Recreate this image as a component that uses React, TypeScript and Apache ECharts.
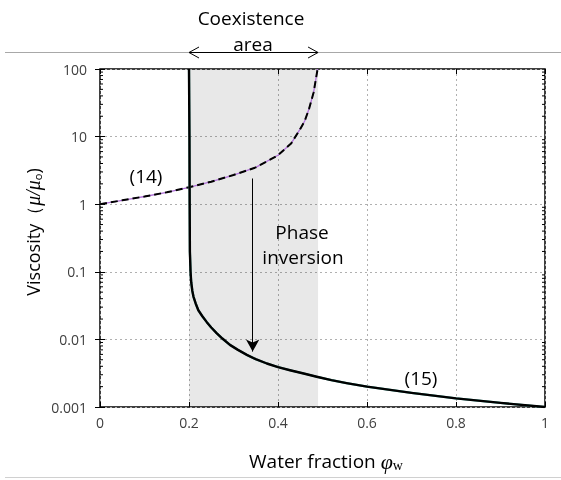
import React, { useEffect, useRef } from 'react';
import * as echarts from 'echarts';

// Eq. (14): oil-continuous viscosity model
const model14X = [0, 0.05, 0.1, 0.15, 0.2, 0.25, 0.3, 0.35, 0.4, 0.43, 0.45, 0.46, 0.47, 0.48, 0.485, 0.489];
const model14Y = [1, 1.14, 1.3, 1.5, 1.78, 2.15, 2.7, 3.5, 5.3, 8, 13, 17, 26, 45, 70, 100];

// Eq. (15): water-continuous viscosity model
const model15X = [0.2, 0.201, 0.2015, 0.202, 0.2035, 0.205, 0.2075, 0.21, 0.215, 0.221, 0.23, 0.24, 0.25, 0.262, 0.275, 0.292, 0.31, 0.33, 0.35, 0.375, 0.4, 0.427, 0.46, 0.487, 0.52, 0.554, 0.6, 0.7, 0.8, 0.9, 1.0];
const model15Y = [100, 10, 1, 0.2, 0.1, 0.07, 0.052, 0.043, 0.034, 0.027, 0.022, 0.018, 0.015, 0.0124, 0.0103, 0.0083, 0.007, 0.0059, 0.0051, 0.0044, 0.0039, 0.0035, 0.0031, 0.0028, 0.0025, 0.00226, 0.002, 0.00162, 0.00134, 0.00115, 0.001];

const coexistenceRange = [0.2, 0.49];
const phaseArrowX = 0.343;
const phaseArrowY = [2.4, 0.0066];

const xTickLabels = ['0', '0.2', '0.4', '0.6', '0.8', '1'];
const yTickLabels = ['0.001', '0.01', '0.1', '1', '10', '100'];

const FONT = 'Open Sans';

export default function App() {
  const ref = useRef<HTMLDivElement>(null);
  useEffect(() => {
    if (!ref.current) return;
    const chart = echarts.init(ref.current, null, { renderer: 'svg' });
    const d14 = model14X.map((x, i) => [x, model14Y[i]]);
    const d15 = model15X.map((x, i) => [x, model15Y[i]]);
    const xLabel = (v: number) => xTickLabels[Math.round(v / 0.2)] ?? '';
    const yLabel = (v: number) => yTickLabels[Math.round(Math.log10(v)) + 3] ?? '';
    const tick = { show: true, inside: true, length: 5, lineStyle: { color: '#000', width: 1 } };
    const split = { show: true, lineStyle: { color: '#b0b0b0', type: [2, 3] as any, width: 1 } };
    const L = 100, R = 16, T = 69, B = 73;
    chart.setOption({
      animation: false,
      grid: { left: L, right: R, top: T, bottom: B, show: true, borderColor: '#000', borderWidth: 1.5, backgroundColor: 'transparent' },
      xAxis: [
        {
          type: 'value', min: 0, max: 1, interval: 0.2, position: 'bottom',
          axisLine: { show: false }, axisTick: tick,
          axisLabel: { color: '#404040', fontSize: 14, fontFamily: FONT, margin: 8, formatter: xLabel },
          splitLine: split,
        },
        {
          type: 'value', min: 0, max: 1, interval: 0.2, position: 'top',
          axisLine: { show: false }, axisTick: tick, axisLabel: { show: false }, splitLine: { show: false },
        },
      ],
      yAxis: [
        {
          type: 'log', logBase: 10, min: 0.001, max: 100, position: 'left',
          axisLine: { show: false }, axisTick: tick,
          axisLabel: { color: '#404040', fontSize: 14, fontFamily: FONT, margin: 13, formatter: yLabel },
          splitLine: split,
        },
        {
          type: 'log', logBase: 10, min: 0.001, max: 100, position: 'right',
          axisLine: { show: false }, axisTick: tick, axisLabel: { show: false }, splitLine: { show: false },
        },
      ],
      series: [
        {
          type: 'line', data: d14, showSymbol: false, z: 2,
          lineStyle: { color: '#b070d8', width: 1.3 },
          markArea: {
            silent: true,
            itemStyle: { color: 'rgba(0,0,0,0.09)' },
            data: [[{ xAxis: coexistenceRange[0] }, { xAxis: coexistenceRange[1] }]],
          },
        },
        {
          type: 'line', data: d14, showSymbol: false, z: 3,
          lineStyle: { color: '#000', width: 2, type: [7, 4] as any },
        },
        {
          type: 'line', data: d15, showSymbol: false, z: 3,
          lineStyle: { color: '#50b8a8', width: 2.2 },
        },
        {
          type: 'line', data: d15, showSymbol: false, z: 4,
          lineStyle: { color: '#000', width: 2.4, join: 'round' },
          markLine: {
            silent: true, symbol: ['none', 'arrow'], symbolSize: [10, 12],
            lineStyle: { color: '#000', width: 1, type: 'solid' },
            label: { show: false },
            data: [[{ coord: [phaseArrowX, phaseArrowY[0]] }, { coord: [phaseArrowX, phaseArrowY[1]] }]],
          },
        },
      ],
    });

    const W = 561;
    const xl = L, xr = W - R;
    const graphics: any[] = [];
    // minor log ticks on left and right
    for (let e = -3; e < 2; e++) {
      for (let m = 2; m <= 9; m++) {
        const v = m * Math.pow(10, e);
        const py = chart.convertToPixel({ yAxisIndex: 0 }, v) as number;
        graphics.push({ type: 'line', shape: { x1: xl, y1: py, x2: xl + 3, y2: py }, style: { stroke: '#000', lineWidth: 1 }, silent: true });
        graphics.push({ type: 'line', shape: { x1: xr - 3, y1: py, x2: xr, y2: py }, style: { stroke: '#000', lineWidth: 1 }, silent: true });
      }
    }
    // coexistence arrow ends follow the shaded range
    const ax0 = chart.convertToPixel({ xAxisIndex: 0 }, coexistenceRange[0]) as number;
    const ax1 = chart.convertToPixel({ xAxisIndex: 0 }, coexistenceRange[1]) as number;
    // top and bottom decorative rules
    graphics.push({ type: 'line', shape: { x1: 5, y1: 52.5, x2: 561, y2: 52.5 }, style: { stroke: '#a8a8a8', lineWidth: 1 }, silent: true });
    graphics.push({ type: 'line', shape: { x1: 5, y1: 477.5, x2: 561, y2: 477.5 }, style: { stroke: '#d0d0d0', lineWidth: 1 }, silent: true });
    graphics.push({ type: 'line', shape: { x1: ax0, y1: 52.5, x2: ax1, y2: 52.5 }, style: { stroke: '#000', lineWidth: 1 }, silent: true });
    graphics.push({ type: 'polyline', shape: { points: [[ax0 + 10, 47], [ax0, 52.5], [ax0 + 10, 58]] }, style: { stroke: '#000', lineWidth: 1, fill: null }, silent: true });
    graphics.push({ type: 'polyline', shape: { points: [[ax1 - 10, 47], [ax1, 52.5], [ax1 - 10, 58]] }, style: { stroke: '#000', lineWidth: 1, fill: null }, silent: true });
    const txt = (text: string, x: number, y: number, size = 19) => ({
      type: 'text', x, y, silent: true,
      style: { text, fontFamily: FONT, fontSize: size, fill: '#000', align: 'center', verticalAlign: 'middle' },
    });
    graphics.push(txt('Coexistence', 251, 18));
    graphics.push(txt('area', 253, 44));
    graphics.push(txt('(14)', 146, 176));
    graphics.push(txt('Phase', 302, 232));
    graphics.push(txt('inversion', 303, 257));
    graphics.push(txt('(15)', 421, 378));
    // axis titles
    graphics.push({
      type: 'text', x: 326, y: 461, silent: true,
      style: {
        text: '{n|Water fraction }{g|φ}{s|w}',
        align: 'center', verticalAlign: 'middle',
        rich: {
          n: { fontFamily: FONT, fontSize: 19, fill: '#000' },
          g: { fontFamily: 'Liberation Serif', fontStyle: 'italic', fontSize: 22, fill: '#000' },
          s: { fontFamily: 'Liberation Serif', fontSize: 14, fill: '#000', padding: [9, 0, 0, 0] },
        },
      },
    });
    graphics.push({
      type: 'text', x: 33, y: 232, rotation: Math.PI / 2, silent: true,
      style: {
        text: '{n|Viscosity（}{g|μ/μ}{s|o}{n|)}',
        align: 'center', verticalAlign: 'middle',
        rich: {
          n: { fontFamily: FONT, fontSize: 18, fill: '#000' },
          g: { fontFamily: 'Liberation Serif', fontStyle: 'italic', fontSize: 20, fill: '#000' },
          s: { fontFamily: FONT, fontSize: 11, fill: '#000', padding: [8, 0, 0, 0] },
        },
      },
    });
    chart.setOption({ graphic: graphics });
    return () => chart.dispose();
  }, []);
  return <div ref={ref} style={{ position: 'fixed', left: 0, top: 0, width: 561, height: 480 }} />;
}
